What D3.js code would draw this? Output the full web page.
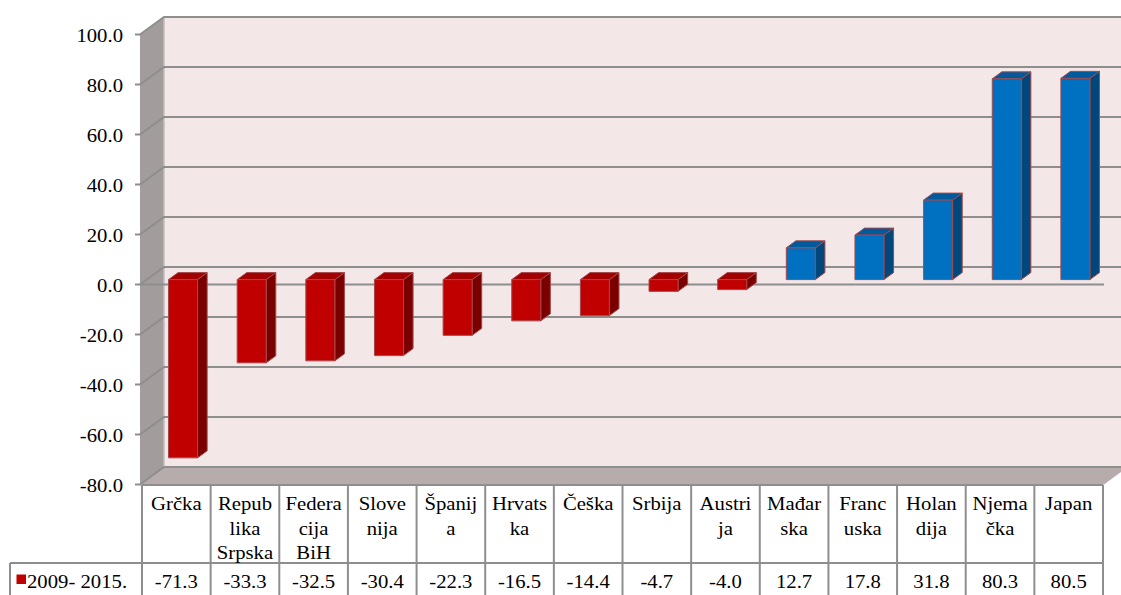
<!DOCTYPE html>
<html>
<head>
<meta charset="utf-8">
<script src="https://cdn.jsdelivr.net/npm/d3@7"></script>
<style>
  html, body { margin: 0; padding: 0; background: #ffffff; }
  svg { display: block; }
  text { font-family: "Liberation Serif", "Times New Roman", serif; fill: #000; }
</style>
</head>
<body>
<svg id="chart" width="1121" height="595"></svg>
<script>
// Change 2009–2015 by country (single series, data table under the axis)
const categories = ["Grčka", "Republika Srpska", "Federacija BiH", "Slovenija", "Španija",
  "Hrvatska", "Češka", "Srbija", "Austrija", "Mađarska", "Francuska", "Holandija", "Njemačka", "Japan"];
const categoryLines = [["Grčka"], ["Repub", "lika", "Srpska"], ["Federa", "cija", "BiH"], ["Slove", "nija"],
  ["Španij", "a"], ["Hrvats", "ka"], ["Češka"], ["Srbija"], ["Austri", "ja"], ["Mađar", "ska"],
  ["Franc", "uska"], ["Holan", "dija"], ["Njema", "čka"], ["Japan"]];
const values = [-71.3, -33.3, -32.5, -30.4, -22.3, -16.5, -14.4, -4.7, -4.0, 12.7, 17.8, 31.8, 80.3, 80.5];
const seriesName = "2009- 2015.";
const yTicks = [-80, -60, -40, -20, 0, 20, 40, 60, 80, 100];

const svg = d3.select("#chart");

// front plane of the 3-D box
const left = 140, right = 1104;
const y = d3.scaleLinear().domain([-80, 100]).range([484.5, 34.5]);
const x = d3.scaleBand().domain(categories).range([142, 1103]);
// one decimal, plain hyphen for negatives
const fmt = v => d3.format(".1f")(v).replace("\u2212", "-");

// oblique depth offset: z = 0 front plane, z = 1 back wall
const DX = 24, DY = -17.5;
const P = (px, v, z) => [px + DX * z, y(v) + DY * z];
const poly = pts => pts.map(p => p.join(",")).join(" ");

const gridColor = "#8e8e8e";

// text helper: serif face, slightly widened
function label(g, str, px, py, anchor, size) {
  return g.append("text")
    .attr("transform", `translate(${px},${py}) scale(1.12,1)`)
    .attr("text-anchor", anchor)
    .style("font-size", (size || 18.5) + "px")
    .text(str);
}

// ---- walls ----
const walls = svg.append("g");
walls.append("polygon")
  .attr("points", poly([P(left, -80, 0), P(left, 100, 0), P(left, 100, 1), P(left, -80, 1)]))
  .attr("fill", "#a29c9c");
walls.append("rect")
  .attr("x", left + DX).attr("y", y(100) + DY)
  .attr("width", 1200).attr("height", y(-80) - y(100))
  .attr("fill", "#f3e7e7");
walls.append("polygon")
  .attr("points", poly([P(left, -80, 0), P(right, -80, 0), P(right, -80, 1), P(left, -80, 1)]))
  .attr("fill", "#b6acac");
walls.append("line")
  .attr("x1", left + DX).attr("x2", left + DX)
  .attr("y1", y(100) + DY).attr("y2", y(-80) + DY)
  .attr("stroke", "#c4bebe").attr("stroke-width", 1.5);

// ---- gridlines (side wall diagonal + back wall) ----
const grid = svg.append("g").attr("fill", "none").attr("stroke", gridColor).attr("stroke-width", 2);
yTicks.forEach(t => {
  grid.append("polyline")
    .attr("points", poly([P(left, t, 0), P(left, t, 1), [1130, y(t) + DY]]));
});

// ---- value axis ----
const yAxis = svg.append("g");
yTicks.forEach(t => {
  yAxis.append("line")
    .attr("x1", left - 5).attr("x2", left + 1)
    .attr("y1", y(t)).attr("y2", y(t))
    .attr("stroke", gridColor).attr("stroke-width", 2);
  label(yAxis, fmt(t), 123, y(t) + 7, "end");
});

// category axis line at zero, front plane
svg.append("line")
  .attr("x1", left).attr("x2", right)
  .attr("y1", y(0)).attr("y2", y(0))
  .attr("stroke", gridColor).attr("stroke-width", 2);

// ---- 3-D columns ----
const zf = 0.28, zb = 0.68, barW = 29;
const palette = {
  neg: { front: "#c00000", top: "#a20000", side: "#7a0000" },
  pos: { front: "#0070c0", top: "#005a9c", side: "#00487c" }
};
const bars = svg.append("g");
categories.forEach((c, i) => {
  const v = values[i];
  const col = v < 0 ? palette.neg : palette.pos;
  const xc = x(c) + x.bandwidth() / 2;
  const xl = xc - barW / 2, xr = xc + barW / 2;
  const hi = Math.max(v, 0), lo = Math.min(v, 0);
  const g = bars.append("g").attr("stroke", "#a4474a").attr("stroke-width", 1).attr("stroke-linejoin", "round");
  g.append("polygon").attr("fill", col.side)
    .attr("points", poly([P(xr, hi, zf), P(xr, hi, zb), P(xr, lo, zb), P(xr, lo, zf)]));
  g.append("polygon").attr("fill", col.top)
    .attr("points", poly([P(xl, hi, zf), P(xr, hi, zf), P(xr, hi, zb), P(xl, hi, zb)]));
  g.append("polygon").attr("fill", col.front)
    .attr("points", poly([P(xl, hi, zf), P(xr, hi, zf), P(xr, lo, zf), P(xl, lo, zf)]));
});

// ---- data table ----
const table = svg.append("g");
const tTop = 485, tMid = 563, tBot = 600, legendLeft = 10;
const tb = table.append("g").attr("stroke", gridColor).attr("stroke-width", 2);
tb.append("line").attr("x1", 142).attr("x2", 1103).attr("y1", tTop).attr("y2", tTop);
tb.append("line").attr("x1", legendLeft).attr("x2", 1103).attr("y1", tMid).attr("y2", tMid);
tb.append("line").attr("x1", legendLeft).attr("x2", legendLeft).attr("y1", tMid).attr("y2", tBot);
categories.forEach(c => {
  tb.append("line").attr("x1", x(c)).attr("x2", x(c)).attr("y1", tTop).attr("y2", tBot);
});
tb.append("line").attr("x1", 1103).attr("x2", 1103).attr("y1", tTop).attr("y2", tBot);

categories.forEach((c, i) => {
  const xc = x(c) + x.bandwidth() / 2;
  categoryLines[i].forEach((ln, k) => label(table, ln, xc, 510 + k * 24.5, "middle"));
  label(table, fmt(values[i]), xc, 588, "middle");
});

// legend key in the table's row header
table.append("rect")
  .attr("x", 16.5).attr("y", 574.5).attr("width", 9.5).attr("height", 9.5)
  .attr("fill", palette.neg.front);
label(table, seriesName, 27, 588, "start");
</script>
</body>
</html>
